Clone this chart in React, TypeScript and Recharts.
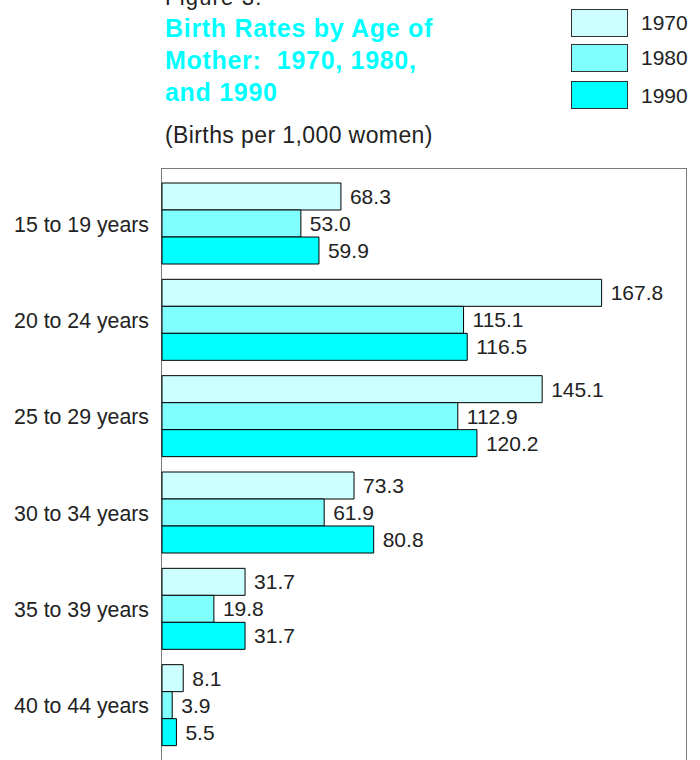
import { Bar, BarChart, LabelList, XAxis, YAxis } from "recharts";

const ageGroups = [
  "15 to 19 years",
  "20 to 24 years",
  "25 to 29 years",
  "30 to 34 years",
  "35 to 39 years",
  "40 to 44 years",
];
const rates1970 = [68.3, 167.8, 145.1, 73.3, 31.7, 8.1];
const rates1980 = [53.0, 115.1, 112.9, 61.9, 19.8, 3.9];
const rates1990 = [59.9, 116.5, 120.2, 80.8, 31.7, 5.5];

const years = ["1970", "1980", "1990"];
const yearColors = ["#ccffff", "#80ffff", "#00ffff"];

const chartData = ageGroups.map((age, i) => ({
  age,
  y1970: rates1970[i],
  y1980: rates1980[i],
  y1990: rates1990[i],
}));

const font = '"Liberation Sans", Arial, Helvetica, sans-serif';
const textColor = "#222";

function Heading() {
  return (
    <svg width={700} height={160} style={{ position: "absolute", left: 0, top: 0 }}>
      <text x={165} y={5} fontSize={22} fill={textColor} fontFamily={font} letterSpacing={1.2}>
        Figure 3.
      </text>
      <g fill="#00ffff" fontFamily={font} fontSize={25} fontWeight="bold" letterSpacing={0.7}>
        <text x={165} y={37}>Birth Rates by Age of</text>
        <text x={165} y={69} style={{ whiteSpace: "pre" }}>
          Mother:  1970, 1980,
        </text>
        <text x={165} y={101}>and 1990</text>
      </g>
      <text x={165} y={143} fontSize={23} fill={textColor} fontFamily={font} letterSpacing={0.4}>
        (Births per 1,000 women)
      </text>
      {years.map((yr, i) => {
        const top = [9, 44, 81][i];
        return (
          <g key={yr}>
            <rect x={571.5} y={top + 0.5} width={56} height={27} fill={yearColors[i]} stroke="#333" />
            <text x={641} y={top + 21 + (i === 2 ? 1 : 0)} fontSize={21} fill={textColor} fontFamily={font}>
              {yr}
            </text>
          </g>
        );
      })}
    </svg>
  );
}

export default function App() {
  const labelStyle = { fontSize: 21, fill: textColor, fontFamily: font };
  return (
    <div
      style={{
        position: "absolute",
        left: 0,
        top: 0,
        width: 700,
        height: 760,
        overflow: "hidden",
        background: "#fff",
        fontFamily: font,
      }}
    >
      <div
        style={{
          position: "absolute",
          left: 161,
          top: 168,
          width: 526,
          height: 620,
          border: "1px solid #7a7a7a",
          boxSizing: "border-box",
        }}
      />
      <Heading />
      <div style={{ position: "absolute", left: 0, top: 0 }}>
        <BarChart
          width={700}
          height={780}
          data={chartData}
          layout="vertical"
          margin={{ top: 169, right: 14, bottom: 19, left: 0 }}
          barCategoryGap={7}
          barGap={0}
        >
          <XAxis type="number" domain={[0, 200]} hide />
          <YAxis
            type="category"
            dataKey="age"
            width={162}
            padding={{ top: 7, bottom: 7 }}
            axisLine={false}
            tickLine={false}
            tickSize={6}
            tickMargin={7}
            tick={{ fontSize: 21.3, fill: textColor, fontFamily: font }}
          />
          <Bar dataKey="y1970" fill={yearColors[0]} stroke="#000" strokeWidth={1} isAnimationActive={false}>
            <LabelList dataKey="y1970" position="right" offset={9} formatter={(v: number) => v.toFixed(1)} style={labelStyle} />
          </Bar>
          <Bar dataKey="y1980" fill={yearColors[1]} stroke="#000" strokeWidth={1} isAnimationActive={false}>
            <LabelList dataKey="y1980" position="right" offset={9} formatter={(v: number) => v.toFixed(1)} style={labelStyle} />
          </Bar>
          <Bar dataKey="y1990" fill={yearColors[2]} stroke="#000" strokeWidth={1} isAnimationActive={false}>
            <LabelList dataKey="y1990" position="right" offset={9} formatter={(v: number) => v.toFixed(1)} style={labelStyle} />
          </Bar>
        </BarChart>
      </div>
    </div>
  );
}
